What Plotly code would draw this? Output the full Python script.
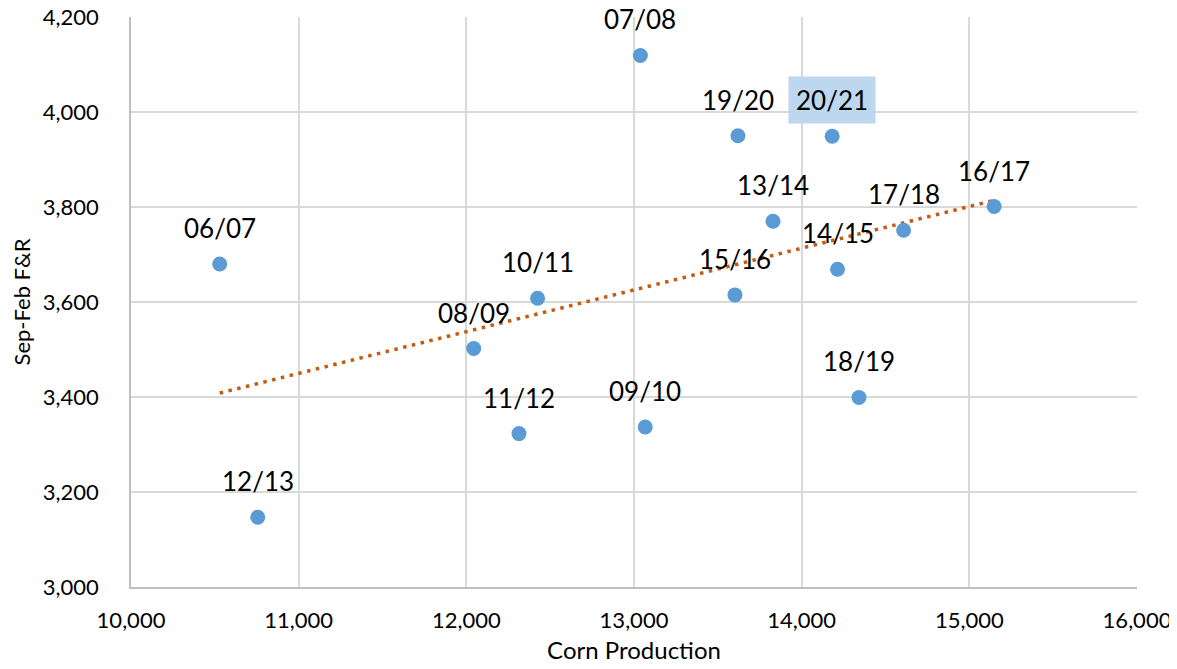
import numpy as np
import plotly.graph_objects as go

seasons = ["06/07", "12/13", "08/09", "10/11", "11/12", "07/08", "09/10", "19/20",
           "15/16", "13/14", "20/21", "14/15", "18/19", "17/18", "16/17"]
corn_production = [10529, 10756, 12044, 12425, 12314, 13038, 13067, 13620,
                   13602, 13829, 14182, 14214, 14342, 14608, 15148]
sep_feb_fr = [3680, 3147, 3502, 3608, 3323, 4119, 3337, 3950,
              3615, 3770, 3949, 3669, 3399, 3751, 3801]
highlight = "20/21"

x_ticks = [10000, 11000, 12000, 13000, 14000, 15000, 16000]
y_ticks = [3000, 3200, 3400, 3600, 3800, 4000, 4200]

FONT = "Lato"
MARKER = "#5B9BD5"
TREND = "#C55A11"

xs = np.array(corn_production, dtype=float)
ys = np.array(sep_feb_fr, dtype=float)
slope, intercept = np.polyfit(xs, ys, 1)
tx = np.array([xs.min(), xs.max()])
ty = slope * tx + intercept

fig = go.Figure()
fig.add_trace(go.Scatter(
    x=tx, y=ty, mode="lines",
    line=dict(color=TREND, width=3.5, dash="3.5px,5.5px"),
    hoverinfo="skip", showlegend=False,
))
fig.add_trace(go.Scatter(
    x=corn_production, y=sep_feb_fr, mode="markers",
    marker=dict(color=MARKER, size=15, line=dict(width=0)),
    showlegend=False,
))

for s, x, y in zip(seasons, corn_production, sep_feb_fr):
    fig.add_annotation(
        x=x, y=y, text=s, showarrow=False, yshift=36,
        font=dict(family=FONT, size=26, color="#000000"),
        bgcolor="#BDD7EE" if s == highlight else "rgba(0,0,0,0)",
        borderpad=7 if s == highlight else 1,
    )

# the page body adds an 8px offset; size the figure to fill the rest
fig.update_layout(
    width=1169, height=661,
    margin=dict(l=123, r=40, t=9, b=82),
    paper_bgcolor="white", plot_bgcolor="white",
    font=dict(family=FONT, color="#000000"),
    xaxis=dict(
        range=[10000, 16000], tickvals=x_ticks,
        ticktext=[f"{v:,}" for v in x_ticks],
        showgrid=True, gridcolor="#D9D9D9", gridwidth=1.7,
        showline=True, linecolor="#BFBFBF", linewidth=1.7,
        zeroline=False, ticks="", ticklabelstandoff=13, automargin=False,
        ticklabeloverflow="allow",
        tickfont=dict(family=FONT, size=22, color="#000000"),
        title=dict(text="Corn Production", standoff=10,
                   font=dict(family=FONT, size=24, color="#000000")),
    ),
    yaxis=dict(
        range=[3000, 4200], tickvals=y_ticks,
        ticktext=[f"{v:,}" for v in y_ticks],
        showgrid=True, gridcolor="#D9D9D9", gridwidth=1.7,
        showline=True, linecolor="#BFBFBF", linewidth=1.7,
        zeroline=False, ticks="", ticklabelstandoff=26, automargin=False,
        ticklabeloverflow="allow",
        tickfont=dict(family=FONT, size=22, color="#000000"),
        title=dict(text="Sep-Feb F&R", standoff=10,
                   font=dict(family=FONT, size=22, color="#000000")),
    ),
)

fig.write_html("out.html")
